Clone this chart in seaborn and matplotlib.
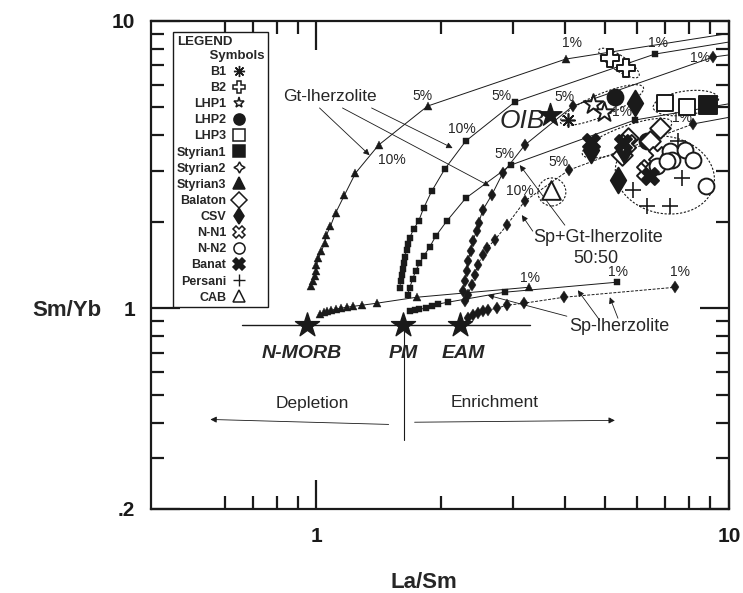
import numpy as np
import pandas as pd
import seaborn as sns
import matplotlib.pyplot as plt
import matplotlib.transforms as mtransforms
from matplotlib.lines import Line2D
from matplotlib.patches import Ellipse
from matplotlib.ticker import NullFormatter

sns.set_theme(style='white')
plt.rcParams['font.family'] = ['Liberation Sans', 'DejaVu Sans']

# Melting curves (La/Sm, Sm/Yb)
# Gt-lherzolite
gt_tri_x = [0.972, 0.978, 0.989, 1.000, 1.000, 1.011, 1.028, 1.046, 1.057, 1.081, 1.112, 1.169, 1.243, 1.414, 1.859, 4.02]
gt_tri_y = [1.193, 1.242, 1.293, 1.345, 1.412, 1.494, 1.580, 1.685, 1.796, 1.931, 2.143, 2.477, 2.953, 3.698, 5.056, 7.37]
gt_sq_x = [1.590, 1.600, 1.609, 1.617, 1.626, 1.635, 1.654, 1.662, 1.681, 1.719, 1.768, 1.818, 1.902, 2.046, 2.300, 3.024, 6.61]
gt_sq_y = [1.174, 1.242, 1.303, 1.367, 1.435, 1.506, 1.592, 1.670, 1.753, 1.885, 2.009, 2.230, 2.555, 3.050, 3.818, 5.222, 7.67]
gt_dia_x = [2.287, 2.262, 2.287, 2.313, 2.326, 2.364, 2.391, 2.444, 2.472, 2.529, 2.659, 2.828, 3.198, 4.182, 9.15]
gt_dia_y = [1.058, 1.146, 1.242, 1.345, 1.458, 1.580, 1.712, 1.855, 1.978, 2.195, 2.477, 2.953, 3.698, 5.056, 7.49]

# Sp+Gt-lherzolite 50:50
spgt_sq_x = [1.662, 1.681, 1.710, 1.738, 1.777, 1.818, 1.880, 1.945, 2.068, 2.300, 2.957, 5.91]
spgt_sq_y = [1.110, 1.174, 1.262, 1.345, 1.435, 1.517, 1.631, 1.781, 2.009, 2.416, 3.150, 4.52]
spgt_dia_x = [2.326, 2.378, 2.418, 2.458, 2.529, 2.587, 2.703, 2.893, 3.198, 4.090, 8.18]
spgt_dia_y = [1.110, 1.203, 1.303, 1.412, 1.530, 1.618, 1.726, 1.946, 2.360, 3.026, 4.38]

# Sp-lherzolite
sp_tri_x = [1.017, 1.040, 1.063, 1.087, 1.112, 1.144, 1.183, 1.229, 1.286, 1.399, 1.748, 3.27]
sp_tri_y = [0.953, 0.968, 0.976, 0.984, 0.992, 1.000, 1.008, 1.016, 1.024, 1.041, 1.092, 1.183]
sp_sq_x = [1.681, 1.729, 1.777, 1.839, 1.902, 1.966, 2.079, 2.860, 5.35]
sp_sq_y = [0.976, 0.984, 0.992, 1.000, 1.016, 1.033, 1.049, 1.137, 1.232]
sp_dia_x = [2.326, 2.391, 2.458, 2.529, 2.600, 2.734, 2.893, 3.182, 3.977, 7.40]
sp_dia_y = [0.923, 0.945, 0.961, 0.976, 0.984, 1.000, 1.024, 1.041, 1.092, 1.183]

# line continuation past the 1% points
tails = [([4.02, 10.0], [7.37, 9.05]),
         ([6.61, 10.0], [7.67, 8.45]),
         ([9.15, 10.0], [7.49, 7.62]),
         ([5.91, 10.0], [4.52, 5.15]),
         ([8.18, 10.0], [4.38, 4.62])]

# Source compositions
src_names = ['N-MORB', 'PM', 'EAM']
src_x = [0.946, 1.617, 2.224]
src_y = [0.873, 0.873, 0.873]
oib_x, oib_y = 3.677, 4.70

# Samples
samples = {
    'B1': ([4.07], [4.52]),
    'B2': ([5.14, 5.62], [7.43, 6.86]),
    'LHP1': ([4.67, 4.97], [5.13, 4.84]),
    'LHP2': ([5.29, 6.32], [5.44, 3.82]),
    'LHP3': ([6.99, 7.91], [5.18, 5.02]),
    'Styrian1': ([8.89], [5.10]),
    'Styrian2': ([], []),
    'Styrian3': ([], []),
    'Balaton': ([6.80, 5.69, 5.50, 6.43], [4.24, 3.91, 3.41, 3.82]),
    'CSV': ([5.91, 4.62, 5.38, 5.55], [5.18, 3.55, 2.79, 3.55]),
    'N-N1': ([6.36, 6.25, 5.66, 6.68], [3.07, 3.00, 3.76, 3.41]),
    'N-N2': ([7.19, 7.27, 7.82, 8.18, 8.79, 6.68, 7.07], [3.52, 3.28, 3.55, 3.28, 2.66, 3.12, 3.25]),
    'Banat': ([4.62, 5.53, 6.43], [3.79, 3.76, 2.88]),
    'Persani': ([5.85, 6.32, 7.19, 7.69, 7.52], [2.58, 2.27, 2.27, 2.84, 3.82]),
    'CAB': ([3.70], [2.58]),
}
# marker, face colour, size (pt^2)
styles = {
    'B1': ((8, 2, 0), 'k', 90), 'B2': ('P', 'white', 150), 'LHP1': ('*', 'white', 220),
    'LHP2': ('o', 'k', 130), 'LHP3': ('s', 'white', 130), 'Styrian1': ('s', 'k', 160),
    'Styrian2': ((4, 1, 0), 'white', 120), 'Styrian3': ('^', 'k', 110),
    'Balaton': ('D', 'white', 110), 'CSV': ('d', 'k', 170), 'N-N1': ('X', 'white', 150),
    'N-N2': ('o', 'white', 130), 'Banat': ('X', 'k', 150), 'Persani': ('+', 'k', 140),
    'CAB': ('^', 'white', 180),
}

# Dotted envelopes: La/Sm, Sm/Yb centre, width px, height px, angle
envelopes = [(5.41, 7.14, 48, 15, -34), (4.92, 5.10, 90, 22, 23), (7.86, 5.18, 66, 24, 8),
             (5.66, 3.91, 95, 24, 20), (6.99, 2.91, 100, 77, -12), (3.72, 2.54, 28, 28, 0)]

fig = plt.figure(figsize=(7.43, 5.93), dpi=100)
ax = fig.add_axes([151 / 743, 84 / 593, 578 / 743, 488 / 593])
ax.set_xscale('log')
ax.set_yscale('log')

def curve(xs, ys, marker, ms, ls='-'):
    sns.lineplot(x=xs, y=ys, sort=False, estimator=None, color='k', linewidth=0.7,
                 linestyle=ls, marker=marker, markersize=ms, markeredgecolor='k',
                 markeredgewidth=0.3, ax=ax, legend=False)

curve(gt_tri_x, gt_tri_y, '^', 6)
curve(gt_sq_x, gt_sq_y, 's', 5)
curve(gt_dia_x, gt_dia_y, 'd', 6.5)
curve(spgt_sq_x, spgt_sq_y, 's', 5)
curve(spgt_dia_x, spgt_dia_y, 'd', 6.5, ls=(0, (3, 1.5)))
curve(sp_tri_x, sp_tri_y, '^', 6)
curve(sp_sq_x, sp_sq_y, 's', 5)
curve(sp_dia_x, sp_dia_y, 'd', 6.5, ls=(0, (3, 1.5)))
for tx, ty in tails:
    ax.plot(tx, ty, color='k', lw=0.7)

# Source line, stars and the PM divider
ax.plot([0.661, 3.29], [0.873, 0.873], color='k', lw=1.0)
ax.plot([1.626, 1.626], [0.873, 0.347], color='k', lw=0.8)
ax.scatter(src_x, src_y, marker='*', s=330, color='k', zorder=5)
for n, x in zip(src_names, [0.920, 1.626, 2.274]):
    ax.text(x, 0.697, n, ha='center', va='center', fontsize=14, fontweight='bold', style='italic')
ax.scatter([oib_x], [oib_y], marker='*', s=300, color='k', zorder=5)
ax.text(3.146, 4.48, 'OIB', ha='center', va='center', fontsize=19, style='italic')

# Samples
for name, (xs, ys) in samples.items():
    m, fc, s = styles[name]
    if not xs:
        continue
    if m in ('+', (8, 2, 0)):
        ax.scatter(xs, ys, marker=m, s=s, color='k', linewidths=1.2, zorder=6)
    else:
        ax.scatter(xs, ys, marker=m, s=s, facecolor=fc, edgecolor='k', linewidths=1.4, zorder=6)

for cx, cy, w, h, a in envelopes:
    tr = fig.dpi_scale_trans + mtransforms.ScaledTranslation(cx, cy, ax.transData)
    ax.add_patch(Ellipse((0, 0), w / 100, h / 100, angle=a, transform=tr, fill=False,
                         ls=(0, (2, 1.5)), lw=0.8, color='k'))

# Percent labels
pct = [(4.16, 8.38, '1%'), (1.808, 5.48, '5%'), (1.52, 3.28, '10%'),
       (6.72, 8.38, '1%'), (2.81, 5.48, '5%'), (2.249, 4.20, '10%'),
       (8.50, 7.43, '1%'), (4.00, 5.44, '5%'),
       (2.86, 3.44, '5%'), (5.50, 4.82, '1%'),
       (3.85, 3.23, '5%'), (3.11, 2.56, '10%'), (7.69, 4.59, '1%'),
       (3.29, 1.272, '1%'), (5.38, 1.335, '1%'), (7.60, 1.335, '1%')]
for x, y, t in pct:
    ax.text(x, y, t, ha='center', va='center', fontsize=10)

arrow = dict(arrowstyle='-|>', color='k', lw=0.6, mutation_scale=9, shrinkA=0, shrinkB=0)
ax.text(1.075, 5.48, 'Gt-lherzolite', ha='center', va='center', fontsize=12.5)
for (x0, y0), (x1, y1) in [((1.017, 4.98), (1.345, 3.41)), ((1.156, 4.98), (2.63, 2.66)),
                           ((1.36, 4.98), (2.138, 3.61))]:
    ax.annotate('', xy=(x1, y1), xytext=(x0, y0), arrowprops=arrow)
ax.text(4.81, 1.77, 'Sp+Gt-lherzolite', ha='center', va='center', fontsize=13)
ax.text(4.76, 1.49, '50:50', ha='center', va='center', fontsize=13)
for (x0, y0), (x1, y1) in [((4.0, 1.946), (3.11, 3.15)), ((3.344, 1.855), (3.146, 2.11))]:
    ax.annotate('', xy=(x1, y1), xytext=(x0, y0), arrowprops=arrow)
ax.text(5.41, 0.866, 'Sp-lherzolite', ha='center', va='center', fontsize=13)
for (x0, y0), (x1, y1) in [((4.86, 0.908), (4.30, 1.155)), ((5.38, 0.923), (5.14, 1.092)),
                           ((4.045, 0.938), (2.60, 1.110))]:
    ax.annotate('', xy=(x1, y1), xytext=(x0, y0), arrowprops=arrow)

ax.annotate('', xy=(0.553, 0.410), xytext=(1.496, 0.394), arrowprops=arrow)
ax.annotate('', xy=(5.288, 0.407), xytext=(1.729, 0.401), arrowprops=arrow)
ax.text(0.978, 0.467, 'Depletion', ha='center', va='center', fontsize=12.5)
ax.text(2.704, 0.470, 'Enrichment', ha='center', va='center', fontsize=12.5)

# Axes
ax.set_xlim(0.397, 10)
ax.set_ylim(0.2, 10)
ax.set_xticks([1, 10])
ax.set_xticklabels(['1', '10'])
ax.set_xticks([0.6, 0.7, 0.8, 0.9, 2, 3, 4, 5, 6, 7, 8, 9], minor=True)
ax.set_yticks([0.2, 1, 10])
ax.set_yticklabels(['.2', '1', '10'])
ax.set_yticks([0.3, 0.4, 0.5, 0.6, 0.7, 0.8, 0.9, 2, 3, 4, 5, 6, 7, 8, 9], minor=True)
ax.xaxis.set_minor_formatter(NullFormatter())
ax.yaxis.set_minor_formatter(NullFormatter())
ax.tick_params(which='both', direction='in', top=True, right=True, bottom=True, left=True,
               width=1.6, color='k', labelsize=15, labelcolor='k')
ax.tick_params(which='major', length=21)
ax.tick_params(which='minor', length=9.5)
ax.tick_params(axis='x', pad=13)
ax.tick_params(axis='y', pad=11.5)
for lab in ax.get_xticklabels() + ax.get_yticklabels():
    lab.set_fontweight('bold')
for sp in ax.spines.values():
    sp.set_linewidth(1.6)
    sp.set_color('k')
ax.grid(False)

fig.text(424 / 743, 1 - 582 / 593, 'La/Sm', ha='center', va='center', fontsize=16, fontweight='bold')
fig.text(67 / 743, 1 - 310 / 593, 'Sm/Yb', ha='center', va='center', fontsize=16, fontweight='bold')

# Legend
handles = []
for name in samples:
    m, fc, s = styles[name]
    if m in ('+', (8, 2, 0)):
        h = Line2D([], [], ls='none', marker=m, color='k', ms=8, mew=1.0)
    else:
        h = Line2D([], [], ls='none', marker=m, mfc=fc, mec='k', ms=8, mew=1.1)
    handles.append(h)
leg = ax.legend(handles, list(samples.keys()), loc='upper left', bbox_to_anchor=(0.038, 0.977),
                markerfirst=False, title='LEGEND\n         Symbols', frameon=True, fancybox=False,
                framealpha=1, edgecolor='k', prop={'weight': 'bold', 'size': 9},
                title_fontproperties={'weight': 'bold', 'size': 9.5}, labelspacing=0.33,
                handletextpad=0.5, handlelength=1.1, borderpad=0.3, borderaxespad=0)
leg._legend_box.align = 'left'
leg.get_frame().set_linewidth(1.0)
leg.set_zorder(10)

fig.savefig('out.png', dpi=100)
